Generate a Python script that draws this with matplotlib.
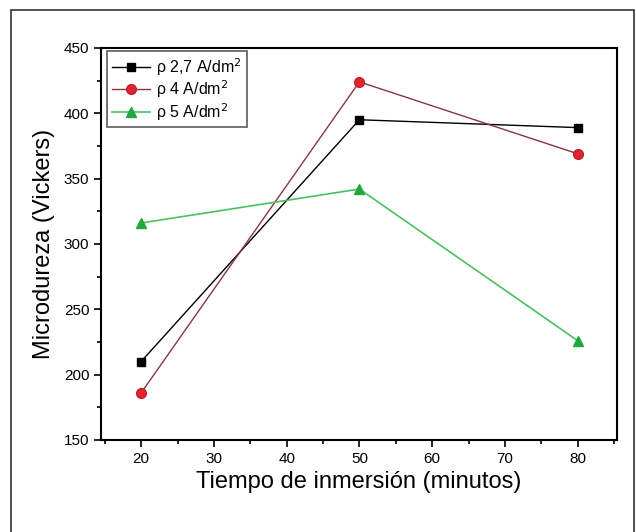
import matplotlib.pyplot as plt
from matplotlib.patches import Rectangle
from matplotlib.ticker import MultipleLocator

plt.rcParams['font.family'] = ['Liberation Sans', 'DejaVu Sans']

tiempo = [20, 50, 80]
micro_27 = [210, 395, 389]
micro_4 = [186, 424, 369]
micro_5 = [316, 342, 226]

fig = plt.figure(figsize=(6.36, 5.32), dpi=100)
ax = fig.add_axes([0.159, 0.173, 0.811, 0.737])

# frame around the whole figure (open at the bottom)
fig.patches.append(Rectangle((11 / 636, -0.05), 623 / 636, 1 - 10 / 532 + 0.05,
                             transform=fig.transFigure, fill=False,
                             edgecolor='#333333', linewidth=1.2))

ax.plot(tiempo, micro_27, '-s', color='black', lw=1.0, ms=6,
        label='ρ 2,7 A/dm$^2$')
ax.plot(tiempo, micro_4, '-o', color='#8a3442', lw=1.0, ms=7,
        markerfacecolor='#e02530', markeredgecolor='#c01f2a',
        label='ρ 4 A/dm$^2$')
ax.plot(tiempo, micro_5, '-^', color='#4cc060', lw=1.2, ms=7,
        markerfacecolor='#1fa83e', markeredgecolor='#1fa83e',
        label='ρ 5 A/dm$^2$')

ax.set_xlim(14.5, 85.4)
ax.set_ylim(150, 450)
ax.xaxis.set_major_locator(MultipleLocator(10))
ax.xaxis.set_minor_locator(MultipleLocator(5))
ax.yaxis.set_major_locator(MultipleLocator(50))
ax.yaxis.set_minor_locator(MultipleLocator(25))
ax.tick_params(which='both', direction='out', top=False, right=False,
               width=1.2, labelsize=11)
ax.tick_params(which='major', length=5)
ax.tick_params(which='minor', length=3)
for s in ax.spines.values():
    s.set_linewidth(1.5)

ax.set_xlabel('Tiempo de inmersión (minutos)', fontsize=17, labelpad=4)
ax.set_ylabel('Microdureza (Vickers)', fontsize=17, labelpad=6)

leg = ax.legend(loc='upper left', fontsize=11.5, frameon=True, fancybox=False,
                edgecolor='#333333', borderpad=0.3, labelspacing=0.05,
                handlelength=2.4, handletextpad=0.4, borderaxespad=0.2,
                bbox_to_anchor=(0.005, 1.0))
leg.get_frame().set_linewidth(1.2)

fig.savefig('out.png', dpi=100)
